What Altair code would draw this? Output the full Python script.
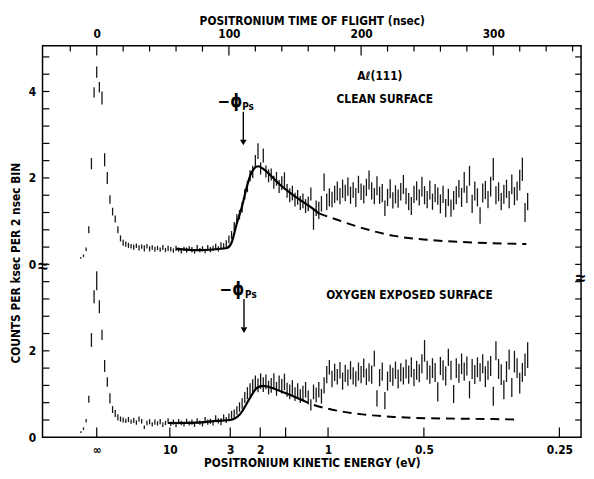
import altair as alt
import pandas as pd

# ---------------- data ----------------
# 2 ns time-of-flight bins starting at -12 ns
T_START = -12
T_STEP = 2

clean_vals = [
    0.15, 0.20, 0.35, 0.80, 2.33, 3.98, 4.45, 4.10, 3.85, 2.42,
    2.00, 1.50, 1.22, 1.05, 0.80, 0.60, 0.50, 0.47, 0.44, 0.42,
    0.40, 0.43, 0.38, 0.41, 0.37, 0.42, 0.36, 0.39, 0.35, 0.38,
    0.34, 0.39, 0.33, 0.37, 0.35, 0.32, 0.37, 0.34, 0.31, 0.36,
    0.33, 0.37, 0.34, 0.30, 0.38, 0.33, 0.36, 0.31, 0.39, 0.34,
    0.37, 0.41, 0.36, 0.43, 0.42, 0.48, 0.58, 0.68, 0.88, 1.05,
    1.15, 1.32, 1.62, 1.80, 2.05, 2.14, 2.38, 2.62, 2.22, 2.52,
    2.15, 2.05, 2.08, 1.90, 1.98, 1.80, 1.88, 1.95, 1.70, 1.60,
    1.65, 1.50, 1.55, 1.42, 1.47, 1.35, 1.40, 1.63, 1.05, 1.30,
    1.25, 1.40, 1.90, 1.45, 1.55, 1.50, 1.62, 1.70, 1.58, 1.75,
    1.65, 1.80, 1.60, 1.72, 1.55, 1.85, 1.68, 1.62, 1.78, 1.95,
    1.70, 1.58, 1.82, 1.60, 1.65, 1.30, 1.55, 1.75, 1.48, 1.62,
    1.52, 1.68, 1.85, 1.58, 1.45, 1.35, 1.62, 1.70, 1.55, 1.80,
    1.60, 1.50, 1.72, 1.45, 1.65, 1.58, 1.40, 1.62, 1.30, 1.55,
    1.30, 1.48, 1.60, 1.75, 1.55, 1.90, 1.62, 2.05, 1.40, 1.70,
    1.55, 1.13, 1.65, 1.72, 1.50, 1.80, 2.20, 1.60, 1.68, 1.45,
    1.62, 1.75, 1.50, 1.85, 1.58, 1.70, 1.95, 2.20, 1.20, 1.45,
]
clean_errs = [
    0.02, 0.03, 0.04, 0.08, 0.13, 0.12, 0.13, 0.12, 0.15, 0.15,
    0.14, 0.10, 0.09, 0.08, 0.08, 0.07, 0.07, 0.06, 0.06, 0.05,
    0.06, 0.05, 0.06, 0.05, 0.07, 0.05, 0.06, 0.05, 0.06, 0.05,
    0.05, 0.06, 0.05, 0.06, 0.05, 0.05, 0.06, 0.05, 0.06, 0.05,
    0.06, 0.05, 0.06, 0.05, 0.07, 0.05, 0.06, 0.05, 0.06, 0.06,
    0.06, 0.07, 0.06, 0.08, 0.07, 0.08, 0.09, 0.09, 0.10, 0.11,
    0.11, 0.12, 0.12, 0.13, 0.13, 0.14, 0.15, 0.18, 0.14, 0.16,
    0.14, 0.15, 0.14, 0.15, 0.16, 0.15, 0.16, 0.18, 0.16, 0.16,
    0.17, 0.16, 0.17, 0.16, 0.17, 0.16, 0.17, 0.15, 0.25, 0.18,
    0.20, 0.18, 0.20, 0.19, 0.21, 0.18, 0.20, 0.22, 0.19, 0.21,
    0.19, 0.21, 0.20, 0.18, 0.22, 0.20, 0.19, 0.21, 0.20, 0.22,
    0.20, 0.19, 0.22, 0.20, 0.21, 0.18, 0.20, 0.22, 0.19, 0.21,
    0.21, 0.20, 0.22, 0.19, 0.20, 0.21, 0.20, 0.22, 0.19, 0.23,
    0.21, 0.20, 0.22, 0.19, 0.21, 0.20, 0.22, 0.20, 0.21, 0.20,
    0.20, 0.22, 0.21, 0.20, 0.22, 0.24, 0.20, 0.23, 0.21, 0.22,
    0.21, 0.19, 0.22, 0.21, 0.20, 0.23, 0.26, 0.21, 0.22, 0.20,
    0.22, 0.21, 0.20, 0.23, 0.21, 0.22, 0.24, 0.27, 0.22, 0.20,
]
oxy_vals = [
    0.12, 0.20, 0.38, 0.88, 2.25, 3.25, 3.62, 3.02, 2.37, 1.65,
    1.28, 0.90, 0.64, 0.55, 0.46, 0.42, 0.40, 0.38, 0.41, 0.36,
    0.39, 0.34, 0.42, 0.37, 0.23, 0.33, 0.36, 0.30, 0.35, 0.32,
    0.36, 0.29, 0.33, 0.38, 0.31, 0.35, 0.28, 0.36, 0.33, 0.30,
    0.37, 0.32, 0.35, 0.29, 0.38, 0.34, 0.31, 0.40, 0.35, 0.37,
    0.33, 0.44, 0.38, 0.36, 0.45, 0.40, 0.47, 0.52, 0.55, 0.62,
    0.70, 0.78, 0.92, 1.02, 1.10, 1.18, 1.25, 1.20, 1.30, 1.22,
    1.28, 1.15, 1.20, 1.30, 1.12, 1.25, 1.18, 1.28, 1.10, 1.05,
    1.15, 1.00, 1.08, 0.95, 1.02, 1.10, 0.92, 0.75, 1.05, 0.98,
    1.10, 0.95, 1.20, 1.45, 1.62, 1.35, 1.50, 1.40, 1.55, 1.30,
    1.48, 1.38, 1.55, 1.42, 1.35, 1.52, 1.45, 1.60, 1.40, 1.50,
    1.45, 1.82, 0.90, 1.38, 1.52, 0.85, 1.30, 1.48, 1.40, 1.55,
    1.35, 1.50, 1.42, 1.58, 1.45, 1.62, 1.38, 1.55, 1.48, 1.70,
    2.00, 1.55, 1.45, 1.60, 1.50, 1.05, 1.65, 1.55, 1.42, 1.85,
    1.55, 1.00, 1.60, 1.48, 1.70, 1.52, 1.65, 1.10, 1.58, 1.45,
    1.62, 1.50, 1.70, 1.40, 1.55, 1.65, 0.95, 2.00, 1.58, 1.45,
    1.10, 1.52, 1.80, 1.15, 1.75, 1.60, 1.25, 1.50, 1.68, 1.90,
]
oxy_errs = [
    0.02, 0.03, 0.04, 0.08, 0.16, 0.15, 0.22, 0.15, 0.12, 0.14,
    0.11, 0.12, 0.08, 0.08, 0.07, 0.06, 0.06, 0.05, 0.06, 0.05,
    0.06, 0.05, 0.06, 0.05, 0.04, 0.05, 0.06, 0.05, 0.06, 0.05,
    0.06, 0.05, 0.05, 0.06, 0.05, 0.06, 0.05, 0.06, 0.05, 0.05,
    0.06, 0.05, 0.06, 0.05, 0.06, 0.05, 0.06, 0.07, 0.06, 0.06,
    0.06, 0.07, 0.06, 0.08, 0.08, 0.07, 0.08, 0.09, 0.09, 0.10,
    0.11, 0.12, 0.13, 0.14, 0.15, 0.16, 0.18, 0.16, 0.18, 0.17,
    0.17, 0.16, 0.17, 0.18, 0.16, 0.18, 0.17, 0.19, 0.16, 0.17,
    0.17, 0.16, 0.17, 0.16, 0.17, 0.18, 0.16, 0.13, 0.17, 0.17,
    0.18, 0.17, 0.19, 0.20, 0.17, 0.19, 0.20, 0.18, 0.19, 0.20,
    0.20, 0.19, 0.21, 0.20, 0.18, 0.21, 0.20, 0.22, 0.19, 0.21,
    0.21, 0.18, 0.19, 0.20, 0.21, 0.20, 0.22, 0.20, 0.21, 0.20,
    0.22, 0.21, 0.20, 0.22, 0.21, 0.23, 0.20, 0.22, 0.21, 0.22,
    0.25, 0.22, 0.21, 0.23, 0.22, 0.22, 0.21, 0.23, 0.22, 0.20,
    0.22, 0.21, 0.23, 0.22, 0.24, 0.21, 0.22, 0.20, 0.23, 0.22,
    0.23, 0.21, 0.22, 0.24, 0.22, 0.23, 0.22, 0.22, 0.23, 0.24,
    0.22, 0.24, 0.23, 0.22, 0.25, 0.23, 0.24, 0.22, 0.26, 0.30,
]

# fitted curves (ns, counts)
clean_fit_t = [60, 76, 90, 98.5, 102, 106, 110, 113.4, 117, 122, 128, 138, 151, 163, 168]
clean_fit_v = [0.36, 0.33, 0.35, 0.38, 0.50, 0.95, 1.35, 1.78, 2.12, 2.27, 2.16, 1.86, 1.55, 1.30, 1.18]
clean_ext_t = [168, 183, 201, 225, 250, 275, 300, 325]
clean_ext_v = [1.18, 1.02, 0.84, 0.66, 0.57, 0.52, 0.49, 0.47]
oxy_fit_t = [54, 75, 91, 101, 108, 116, 121, 126, 136, 145.5, 154]
oxy_fit_v = [0.33, 0.34, 0.38, 0.40, 0.52, 0.91, 1.14, 1.19, 1.10, 0.99, 0.88]
oxy_ext_t = [154, 163, 175, 201, 225, 250, 275, 300, 319]
oxy_ext_v = [0.88, 0.76, 0.66, 0.53, 0.47, 0.44, 0.43, 0.42, 0.41]

# axes
tof_labels = [0, 100, 200, 300]
tof_minor = [-20, 20, 40, 60, 80, 120, 140, 160, 180, 220, 240, 260, 280, 320, 340, 360]
energy_labels = ["\u221e", "10", "3", "2", "", "1", "0.5", "0.25"]
energy_tof = [0, 55.3, 101.0, 123.7, 142.9, 175.0, 247.5, 350.0]
count_label_pos = [0, 2, 4, 6, 8]
count_labels = ["0", "2", "0", "2", "4"]
count_ticks = [round(0.4 * k, 1) for k in range(1, 23)]

PANEL_OFFSET = 4.0   # upper (clean) panel sits 4 units above the lower one

# ---------------- build tables ----------------
times = [T_START + T_STEP * i for i in range(len(clean_vals))]
bars = pd.DataFrame({
    "t": times + times,
    "lo": [v - e + PANEL_OFFSET for v, e in zip(clean_vals, clean_errs)]
          + [v - e for v, e in zip(oxy_vals, oxy_errs)],
    "hi": [v + e + PANEL_OFFSET for v, e in zip(clean_vals, clean_errs)]
          + [v + e for v, e in zip(oxy_vals, oxy_errs)],
})
fit_solid = pd.DataFrame({
    "t": clean_fit_t + oxy_fit_t,
    "y": [v + PANEL_OFFSET for v in clean_fit_v] + oxy_fit_v,
    "s": ["c"] * len(clean_fit_t) + ["o"] * len(oxy_fit_t),
})
fit_dash = pd.DataFrame({
    "t": clean_ext_t + oxy_ext_t,
    "y": [v + PANEL_OFFSET for v in clean_ext_v] + oxy_ext_v,
    "s": ["c"] * len(clean_ext_t) + ["o"] * len(oxy_ext_t),
})

FONT = "DejaVu Sans Condensed, Liberation Sans Narrow, Liberation Sans, sans-serif"
FS = 12
XS = alt.Scale(domain=[-41, 366.4], nice=False, zero=False)
YS = alt.Scale(domain=[0, 9.06], nice=False, zero=False)
W, H = 546, 397

def X(axis=None):
    return alt.X("t:Q", scale=XS, axis=axis)

def Y(field="y", axis=None):
    return alt.Y(f"{field}:Q", scale=YS, axis=axis)

bar_layer = alt.Chart(bars).mark_rule(color="#161616", strokeWidth=1.3).encode(
    x=X(), y=Y("lo"), y2="hi:Q")

solid_layer = alt.Chart(fit_solid).mark_line(
    color="black", strokeWidth=2.2, interpolate="monotone").encode(
    x=X(), y=Y(), detail="s:N")
dash_layer = alt.Chart(fit_dash).mark_line(
    color="black", strokeWidth=2.0, strokeDash=[9, 6], interpolate="monotone").encode(
    x=X(), y=Y(), detail="s:N")

# top axis (time of flight)
top_axis = alt.Axis(orient="top", values=tof_labels, ticks=False, tickSize=0, domain=False,
                    labelPadding=5, labelFont=FONT, labelFontSize=FS, labelFontWeight="bold",
                    labelColor="black", grid=False,
                    title="POSITRONIUM TIME OF FLIGHT (nsec)", titleFont=FONT, titleFontSize=FS,
                    titleFontWeight="bold", titleColor="black", titleY=-21, titleBaseline="alphabetic")
top_major = alt.Chart(pd.DataFrame({"t": tof_labels})).mark_rule(color="black", strokeWidth=1.2).encode(
    x=X(top_axis), y=alt.value(0), y2=alt.value(10))
top_minor = alt.Chart(pd.DataFrame({"t": tof_minor})).mark_rule(color="black", strokeWidth=1.2).encode(
    x=X(), y=alt.value(0), y2=alt.value(6))

# bottom axis (kinetic energy)
label_expr = " : ".join(f"datum.value == {t} ? '{lab}'" for t, lab in zip(energy_tof, energy_labels)) + " : ''"
bottom_axis = alt.Axis(orient="bottom", values=energy_tof, labelExpr=label_expr, ticks=False, tickSize=0,
                       domain=False, labelPadding=7, labelFont=FONT, labelFontSize=FS,
                       labelFontWeight="bold", labelColor="black", grid=False,
                       title="POSITRONIUM KINETIC ENERGY (eV)", titleFont=FONT, titleFontSize=FS,
                       titleFontWeight="bold", titleColor="black", titleY=30, titleBaseline="alphabetic")
bottom_ticks = alt.Chart(pd.DataFrame({"t": energy_tof})).mark_rule(color="black", strokeWidth=1.2).encode(
    x=X(bottom_axis), y=alt.value(H), y2=alt.value(H - 10))

# left axis (counts)
ylab_expr = " : ".join(f"datum.value == {v} ? '{lab}'" for v, lab in zip(count_label_pos, count_labels)) + " : ''"
left_axis = alt.Axis(orient="left", values=count_label_pos, labelExpr=ylab_expr, ticks=False, tickSize=0,
                     domain=False, labelPadding=7, labelFont=FONT, labelFontSize=FS,
                     labelFontWeight="bold", labelColor="black", grid=False,
                     title="COUNTS PER ksec PER 2 nsec BIN", titleFont=FONT, titleFontSize=FS,
                     titleFontWeight="bold", titleColor="black", titleAngle=270, titleX=-23,
                     titleY=220, titleAlign="center", titleBaseline="alphabetic")
left_ticks = alt.Chart(pd.DataFrame({"y": count_ticks})).mark_rule(color="black", strokeWidth=1.2).encode(
    y=Y("y", left_axis), x=alt.value(0), x2=alt.value(7))
right_ticks = alt.Chart(pd.DataFrame({"y": count_ticks})).mark_rule(color="black", strokeWidth=1.2).encode(
    y=Y("y"), x=alt.value(W), x2=alt.value(W - 6))

# annotations
ann = pd.DataFrame({
    "t": [100.7, 102.2, 214.2, 217.9, 236.6],
    "y": [7.76, 3.40, 8.36, 7.83, 3.29],
    "txt": ["\u2212\u03d5", "\u2212\u03d5", "A\u2113(111)", "CLEAN SURFACE", "OXYGEN EXPOSED SURFACE"],
    "size": [17, 17, 12, 12, 12],
})
ann_layer = alt.Chart(ann).mark_text(font=FONT, fontWeight="bold", color="black", baseline="middle").encode(
    x=X(), y=Y(), text="txt:N", size=alt.Size("size:Q", scale=None, legend=None))
sub = pd.DataFrame({"t": [114.5, 116.6], "y": [7.64, 3.30], "txt": ["Ps", "Ps"]})
sub_layer = alt.Chart(sub).mark_text(font=FONT, fontWeight="bold", fontSize=10, color="black",
                                     baseline="middle").encode(x=X(), y=Y(), text="txt:N")

arrows = pd.DataFrame({"t": [110.9, 111.4], "y": [7.53, 3.20], "y2": [6.88, 2.55], "s": ["c", "o"]})
arrow_line = alt.Chart(arrows).mark_rule(color="black", strokeWidth=1.4).encode(x=X(), y=Y(), y2="y2:Q")
heads = pd.DataFrame({"t": [110.9, 111.4], "y": [6.82, 2.48]})
arrow_head = alt.Chart(heads).mark_point(shape="triangle-down", filled=True, color="black",
                                         size=45, opacity=1).encode(x=X(), y=Y())

brk = pd.DataFrame({"t": [-40.5, 366.0], "y": [3.93, 3.65]})
break_layer = alt.Chart(brk).mark_text(text="\u2248", fontSize=18, fontWeight="bold", color="black",
                                       baseline="middle").encode(x=X(), y=Y())

chart = alt.layer(
    top_major, top_minor, bottom_ticks, left_ticks, right_ticks,
    bar_layer, solid_layer, dash_layer,
    arrow_line, arrow_head, ann_layer, sub_layer, break_layer,
).resolve_axis(x="independent", y="independent").properties(
    width=W, height=H,
    padding={"left": 35, "top": 35, "right": 5, "bottom": 31},
    autosize=alt.AutoSizeParams(type="none"),
    background="white",
).configure_view(stroke="black", strokeWidth=1.5)

chart.save("out.html", embed_options={"renderer": "svg", "actions": False})
